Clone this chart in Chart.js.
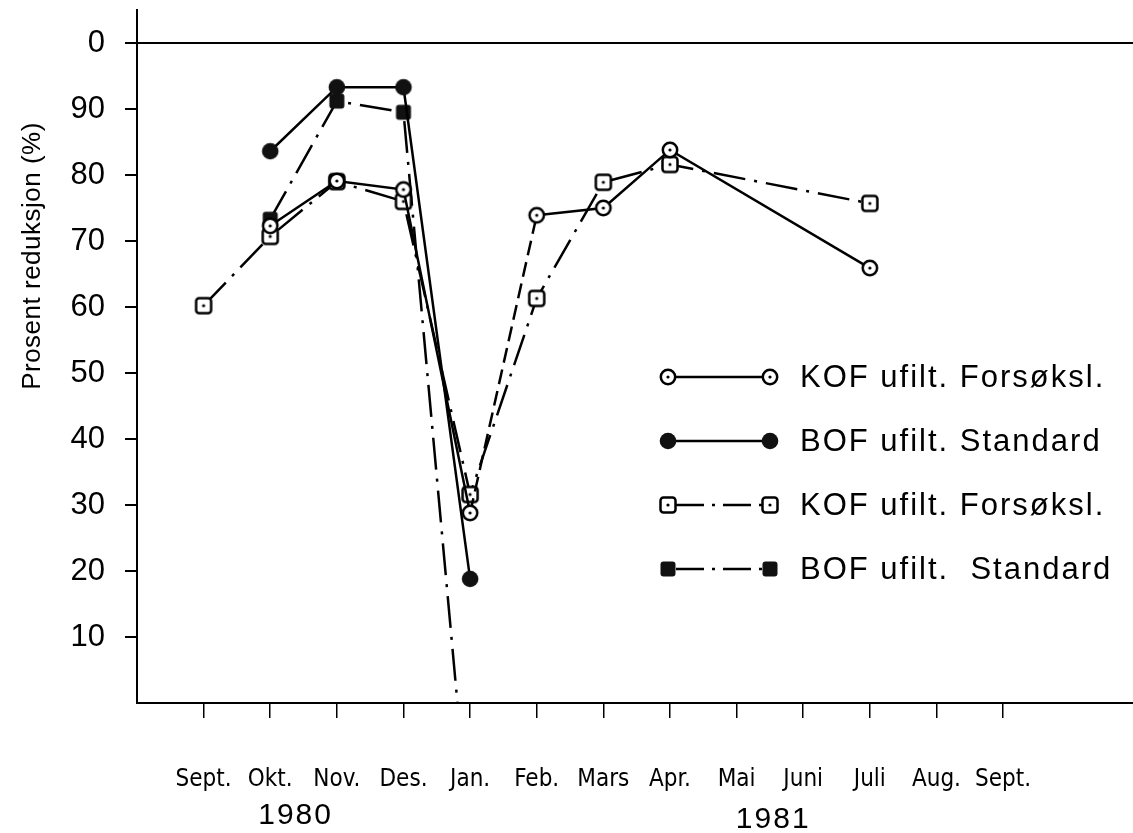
<!DOCTYPE html>
<html>
<head>
<meta charset="utf-8">
<script src="https://cdn.jsdelivr.net/npm/chart.js@4"></script>
<style>
  html, body { margin: 0; padding: 0; background: #fff; overflow: hidden; }
  canvas { display: block; }
</style>
</head>
<body>
<canvas id="chart" width="1133" height="833"></canvas>
<script>
"use strict";
// month ticks along the bottom, Sept. 1980 .. Sept. 1981
const MONTHS = ["Sept.", "Okt.", "Nov.", "Des.", "Jan.", "Feb.", "Mars", "Apr.", "Mai", "Juni", "Juli", "Aug.", "Sept."];
const YEARS = ["1980", "1981"];
const YEAR_AT = [1.38, 8.55]; // in month units
const Y_TICKS = [10, 20, 30, 40, 50, 60, 70, 80, 90, 100];
const Y_TICK_LABELS = ["10", "20", "30", "40", "50", "60", "70", "80", "90", "0"];

const LABELS = ["KOF ufilt. Forsøksl.", "BOF ufilt. Standard", "KOF ufilt. Forsøksl.", "BOF ufilt.  Standard"];
const kofSolid = [null, 72.3, 79.1, 77.8, 28.8, 73.9, 75.0, 83.8, null, null, 65.9, null, null];
const bofSolid = [null, 83.6, 93.3, 93.3, 18.8, null, null, null, null, null, null, null, null];
const kofDashDot = [60.2, 70.7, 79.0, 76.0, 31.6, 61.3, 78.9, 81.6, null, null, 75.7, null, null];
const bofDashDot = [null, 73.3, 91.2, 89.5, -21, null, null, null, null, null, null, null, null];

const DASH_DOT = [32, 9, 3, 9];

function points(values) {
  return values.map((y, x) => ({ x, y })).filter((p) => p.y !== null);
}

function marker(kind) {
  const c = document.createElement("canvas");
  c.width = c.height = 22;
  const g = c.getContext("2d");
  g.lineWidth = 2.5;
  g.strokeStyle = "#000";
  g.fillStyle = kind.startsWith("open") ? "#fff" : "#111";
  g.beginPath();
  if (kind.endsWith("Circle")) g.arc(11, 11, kind === "openCircle" ? 7.2 : 8.3, 0, 2 * Math.PI);
  else g.roundRect(3.5, 3.5, 15, 15, 3);
  g.fill();
  if (kind.startsWith("open")) {
    g.stroke();
    g.fillStyle = "#000";
    g.beginPath();
    g.arc(11, 11, 1.6, 0, 2 * Math.PI);
    g.fill();
  }
  return c;
}

const MARKERS = [marker("openCircle"), marker("filledCircle"), marker("openSquare"), marker("filledSquare")];

function makeSet(i, values, dash) {
  return {
    label: LABELS[i],
    data: points(values),
    borderColor: "#000",
    borderWidth: 2.5,
    borderDash: dash,
    pointStyle: MARKERS[i],
    pointRadius: 8,
    spanGaps: true,
    tension: 0,
  };
}

const datasets = [
  makeSet(0, kofSolid, []),
  makeSet(1, bofSolid, []),
  makeSet(2, kofDashDot, DASH_DOT),
  makeSet(3, bofDashDot, DASH_DOT),
];
// the Jan -> Feb stretch of the first series is drawn dashed
datasets[0].segment = { borderDash: (ctx) => (ctx.p0.parsed.x === 4 ? [15, 7] : undefined) };

const extras = {
  id: "extras",
  afterDraw(chart) {
    const ctx = chart.ctx;
    const xs = chart.scales.x;
    ctx.save();
    ctx.fillStyle = "#000";
    ctx.strokeStyle = "#000";

    // y title
    ctx.save();
    ctx.translate(33, 256);
    ctx.rotate(-Math.PI / 2);
    ctx.font = "26px 'Liberation Sans', Arial, sans-serif";
    ctx.letterSpacing = "0.5px";
    ctx.textAlign = "center";
    ctx.textBaseline = "middle";
    ctx.fillText("Prosent reduksjon (%)", 0, 0);
    ctx.restore();

    // years under the month labels
    ctx.font = "30px 'Liberation Sans', Arial, sans-serif";
    ctx.letterSpacing = "2px";
    ctx.textAlign = "center";
    ctx.textBaseline = "middle";
    YEARS.forEach((y, i) => ctx.fillText(y, xs.getPixelForValue(YEAR_AT[i]), 816 + i * 4));

    // legend: marker, line sample, marker, text
    chart.data.datasets.forEach((ds, i) => {
      const y = 377 + i * 64;
      ctx.lineWidth = 2.5;
      ctx.setLineDash(ds.borderDash.length ? [28, 8, 3, 8] : []);
      ctx.beginPath();
      ctx.moveTo(676, y);
      ctx.lineTo(764, y);
      ctx.stroke();
      ctx.setLineDash([]);
      ctx.drawImage(MARKERS[i], 668 - 11, y - 11);
      ctx.drawImage(MARKERS[i], 770 - 11, y - 11);
      ctx.font = "31px 'Liberation Sans', Arial, sans-serif";
      ctx.letterSpacing = "2px";
      ctx.textAlign = "left";
      ctx.fillText(ds.label, 800, y + 1);
    });
    ctx.restore();
  },
};

new Chart(document.getElementById("chart"), {
  type: "line",
  data: { datasets },
  options: {
    responsive: false,
    animation: false,
    devicePixelRatio: 1,
    layout: { autoPadding: false, padding: { top: 10, right: 0, left: 0, bottom: 0 } },
    plugins: { legend: { display: false }, tooltip: { enabled: false } },
    scales: {
      x: {
        type: "linear",
        min: -1,
        max: 13.95,
        afterFit: (s) => {
          s.height = 130;
          s.paddingLeft = 0;
          s.paddingRight = 0;
        },
        afterBuildTicks: (s) => { s.ticks = MONTHS.map((m, i) => ({ value: i })); },
        border: { color: "#000", width: 2 },
        grid: { drawOnChartArea: false, color: "#000", tickColor: "#000", tickLength: 15, lineWidth: 1.5 },
        ticks: {
          autoSkip: false,
          maxRotation: 0,
          padding: 47,
          color: "#000",
          font: { family: "'Liberation Sans Narrow', 'DejaVu Sans Condensed', sans-serif", size: 24 },
          callback: (v) => MONTHS[v],
        },
      },
      y: {
        min: 0,
        max: 105,
        afterFit: (s) => {
          s.width = 137;
          s.paddingTop = 0;
          s.paddingBottom = 0;
        },
        afterBuildTicks: (s) => { s.ticks = Y_TICKS.map((v) => ({ value: v })); },
        border: { color: "#000", width: 2 },
        grid: {
          color: (c) => (c.tick && c.tick.value === 100 ? "#000" : "transparent"),
          lineWidth: 2,
          tickColor: "#000",
          tickLength: 12,
        },
        ticks: {
          padding: 20,
          color: "#000",
          font: { family: "'Liberation Sans', Arial, sans-serif", size: 31 },
          callback: (v) => Y_TICK_LABELS[Y_TICKS.indexOf(v)],
        },
      },
    },
  },
  plugins: [extras],
});
</script>
</body>
</html>
